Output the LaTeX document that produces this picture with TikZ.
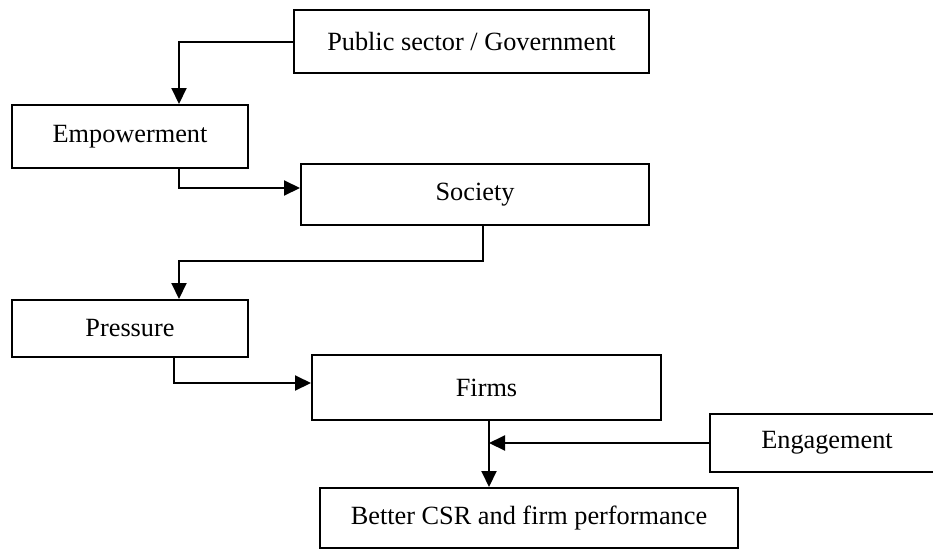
\documentclass[tikz,border=0pt]{standalone}
\usepackage{fontspec}
\setmainfont{Liberation Serif}
\usepackage{tikz}
\usetikzlibrary{arrows.meta}

\begin{document}
\begin{tikzpicture} [x=1pt,y=-1pt,line width=2pt]
        \tikzstyle{box}=[rectangle, draw, anchor=north west, inner sep = 0mm, font=\fontsize{26.3}{30}\selectfont]
        \tikzstyle{link}=[-{Triangle[length=16pt,width=15pt]}]
        \clip (0,0) rectangle (933,549);
        \node[box, minimum width=355, minimum height=63] (Gov) at (293,9) {Public sector / Government};
        \node[box, minimum width=236, minimum height=63] (Empower) at (11,104) {Empowerment};
        \node[box, minimum width=348, minimum height=61] (Society) at (300,163) {Society};
        \node[box, minimum width=236, minimum height=57] (Pressure) at (11,299) {Pressure};
        \node[box, minimum width=349, minimum height=65] (Firms) at (311,354) {Firms};
        \node[box, minimum width=234, minimum height=58] (Engage) at (709,413) {Engagement};
        \node[box, minimum width=418, minimum height=60] (CSR) at (319,487) {Better CSR and firm performance};
        \coordinate (FirmsOut) at ([xshift=178pt]Firms.south west);

        \draw[link] (Gov.west) -| ([xshift=168pt]Empower.north west);
        \draw[link] ([xshift=168pt]Empower.south west) |- ([yshift=6.5pt]Society.west);
        \draw[link] ([xshift=183pt]Society.south west) -- ++(0,35) -| ([xshift=168pt]Pressure.north west);
        \draw[link] ([xshift=163pt]Pressure.south west) |- ([yshift=4.5pt]Firms.west);
        \draw[link] (FirmsOut) -- ([xshift=170pt]CSR.north west);
        \draw[link] (Engage.west) -- (Engage.west -| FirmsOut);
      \end{tikzpicture}
\end{document}
